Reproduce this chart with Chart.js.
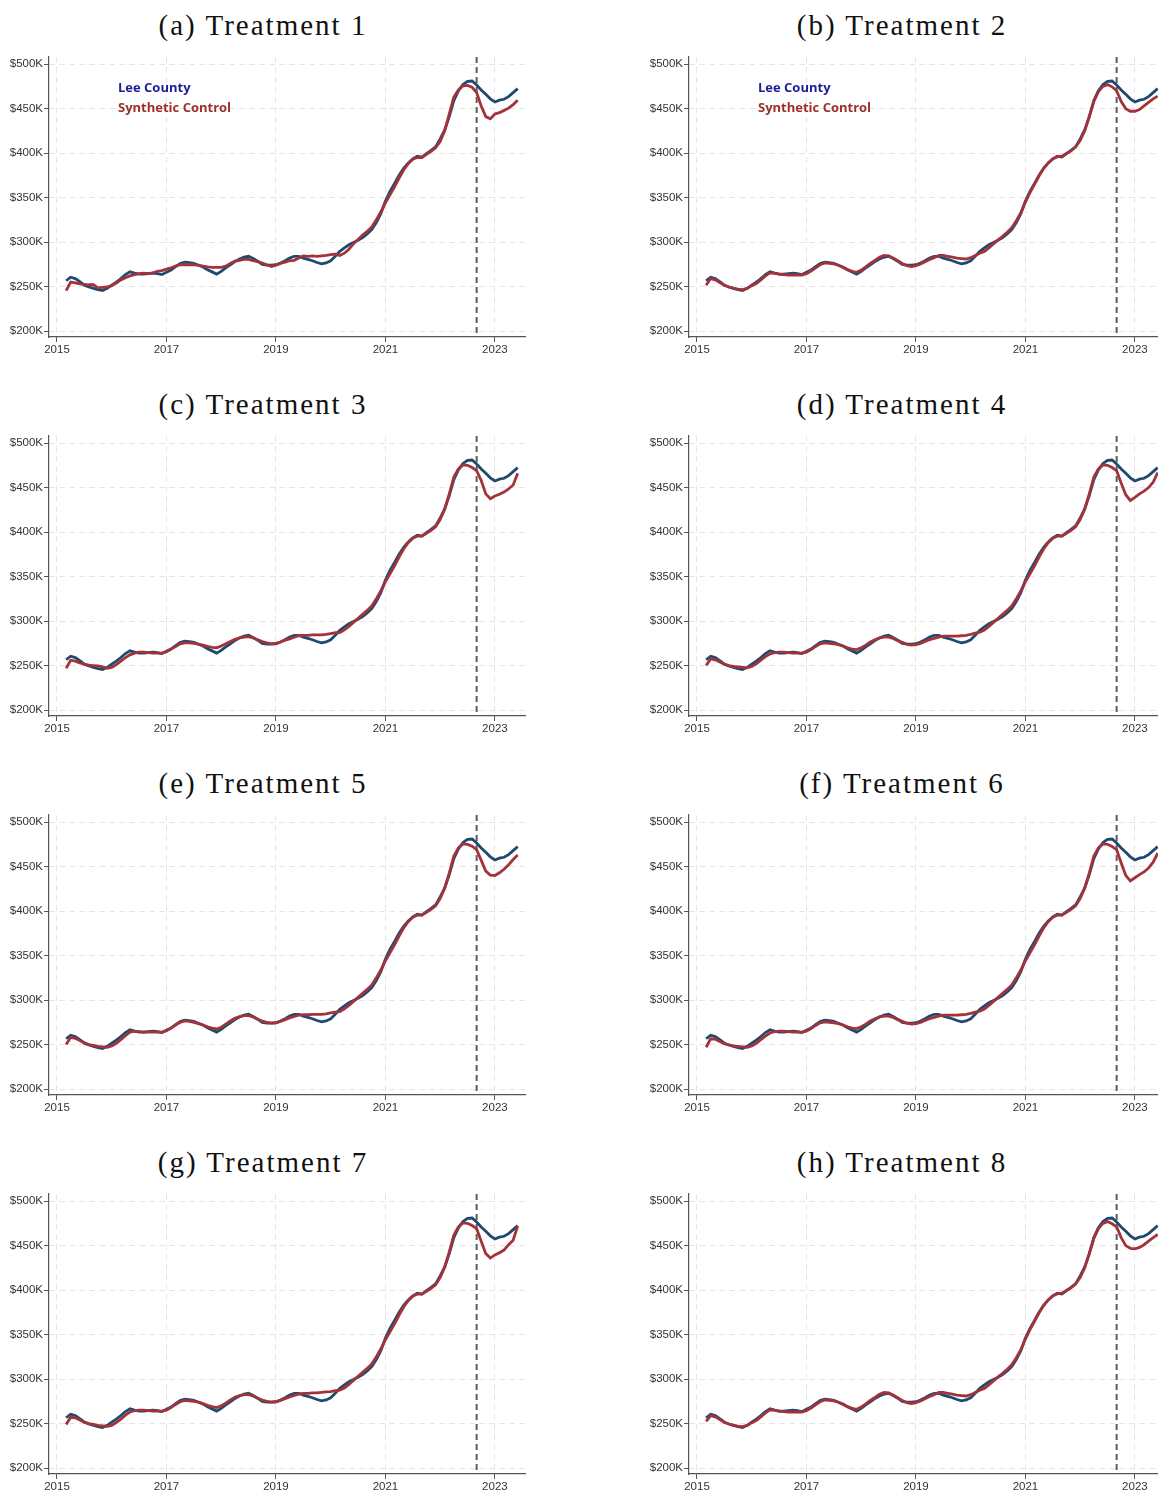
<!DOCTYPE html>
<html>
<head>
<meta charset="utf-8" />
<title>Lee County vs Synthetic Control</title>
<script src="https://cdn.jsdelivr.net/npm/chart.js@4.4.1/dist/chart.umd.min.js"></script>
<style>
  html, body { margin: 0; padding: 0; background: #fff; overflow: hidden; }
  body { width: 1158px; height: 1496px; position: relative; }
  .panel { position: absolute; width: 560px; height: 320px; }
  .title {
    position: absolute; width: 400px; text-align: center;
    font-family: "Liberation Serif", serif; font-size: 29px; letter-spacing: 2px;
    color: #111; line-height: 34px;
  }
</style>
</head>
<body>
<script>
// monthly, Mar 2015 .. Jun 2023 (values in $K)
const startYear = 2015, startMonth = 3, nMonths = 100;
const treatDate = 2022 + 8 / 12; // Sept 2022
const xTicks = [2015, 2017, 2019, 2021, 2023];
const yTicks = [200, 250, 300, 350, 400, 450, 500];

const leeCounty = [
  256.5, 260.5, 259, 255.5, 251.5, 249.5, 248, 246.5, 245.5, 248,
  251.5, 255, 259, 263.5, 266.5, 265, 264, 264, 264.5, 265, 264.5, 263.5,
  266, 268.5, 272.5, 276, 277.5, 277, 276, 274, 272, 269, 266.5, 264,
  267, 271, 274.5, 278, 281, 283, 284, 281.5, 278.5, 275, 274, 274,
  274.5, 276.5, 279, 282, 284, 284, 282, 280.5, 279, 277, 275.5, 276.5,
  279, 284, 289.5, 293.5, 297, 299.5, 302, 305, 309, 314, 322, 332,
  346, 357, 366, 375, 383, 389, 393.5, 396.5, 395.5, 399.5, 403, 407,
  416, 426, 441, 459, 470, 477, 480.5, 481, 476.5, 471, 466, 461,
  457.5, 459.5, 460.5, 463.5, 468, 472.5
];
const synthA = [
  245.5, 255, 254, 253, 252.5, 252, 252, 248.5, 249, 249.5,
  251, 254, 257.5, 260, 262, 263.5, 264.5, 265, 264.5, 265.5, 267, 268,
  269.5, 271, 273, 274.5, 274.5, 274.5, 274.5, 274, 273, 272, 271.5, 271.5,
  271.5, 273, 276, 278.5, 279.5, 280.5, 280.5, 279, 278, 276.5, 274.5, 272.5,
  274, 276, 277.5, 279, 279.5, 282, 284.5, 284, 284.5, 284, 284.5, 285,
  286, 286.5, 285, 287.5, 292, 298, 303, 308, 312, 317, 325, 334,
  344, 353, 362, 372, 381, 388, 393, 395, 395, 398.5, 402, 406,
  413, 425, 444, 463, 471, 475.5, 476, 474, 468, 453, 441, 438.5,
  444, 445.5, 448, 450.5, 454.5, 459.5
];
const synthB = [
  251.5, 259, 257.5, 254.5, 251.5, 249.5, 248, 247, 246.5, 248,
  251, 253.5, 257.5, 262, 265.5, 265, 264, 263.5, 263, 263, 263, 263,
  264.5, 267.5, 271, 274.5, 276.5, 276, 275.5, 274, 271.5, 269, 267, 266,
  268.5, 272, 276, 279.5, 283, 285, 284.5, 282, 279, 276, 273.5, 272.5,
  273.5, 275.5, 278, 280.5, 282.5, 285, 285, 284, 283, 282, 281.5, 281,
  282.5, 285, 287.5, 289.5, 293.5, 298, 302.5, 306.5, 311, 316, 324, 333,
  345, 355.5, 365, 374.5, 383, 389, 393.5, 396, 396.5, 399.5, 402.5, 407,
  414, 425, 441, 458, 469, 475, 477, 474.5, 470, 458, 450, 447,
  447, 449, 453, 457, 461, 464
];
const synthC = [
  247, 256, 255, 253, 251.5, 250.5, 250, 249.5, 248.5, 247,
  248, 251, 255, 259, 262, 264, 265, 265, 264.5, 264, 264, 264,
  265.5, 268.5, 271.5, 274.5, 275.5, 275.5, 275, 274, 273, 271.5, 270.5, 270,
  272, 274.5, 277, 279.5, 281, 282, 282.5, 281, 279, 277, 275.5, 274.5,
  275, 276.5, 278.5, 280, 282, 283.5, 284, 284, 284.5, 284.5, 284.5, 285,
  286, 287, 287, 290, 294, 298.5, 303, 307.5, 312, 317, 325, 334,
  344, 353, 362, 372, 381, 388, 393, 395.5, 395.5, 398.5, 402, 406,
  414, 426, 443, 462, 471, 475.5, 475, 472.5, 469, 458, 443, 437.5,
  440.5, 442.5, 445, 448.5, 453, 466
];
const synthD = [
  250, 257.5, 256.5, 254, 251.5, 250, 249, 248.5, 248, 247.5,
  249, 252, 256, 260, 263, 264.5, 265, 265, 264.5, 264, 264, 264,
  265, 268, 271.5, 274.5, 275.5, 275, 274.5, 273.5, 272, 270, 268.5, 268,
  270, 273, 276.5, 279, 281, 282, 282, 280.5, 278, 276, 274, 273,
  273.5, 275, 277, 279, 280.5, 282, 283, 283, 283, 283, 283.5, 284,
  285, 286.5, 287.5, 290, 294, 298.5, 303, 307.5, 312, 317, 325, 334,
  344, 353, 362, 372, 381, 388, 393, 395.5, 395.5, 398.5, 402, 406,
  414, 426, 443, 462, 471, 475.5, 475, 472.5, 469, 455, 442, 435.5,
  439, 443, 446, 450, 456, 467
];
const synthE = [
  250, 258, 257, 254.5, 252, 250, 249, 248, 247.5, 247,
  248.5, 251.5, 255.5, 260, 264, 265, 264.5, 264, 264, 264, 264, 264,
  265.5, 268.5, 272, 275, 276.5, 276, 275, 273.5, 272, 270, 268.5, 267.5,
  269.5, 273, 276.5, 279.5, 281.5, 282.5, 282.5, 281, 278.5, 276.5, 275, 274,
  274.5, 276, 278, 280, 281.5, 283, 283.5, 283.5, 284, 284, 284, 284.5,
  285.5, 286.5, 287, 290, 294, 298.5, 303, 307.5, 312, 317, 325, 334,
  344, 353, 362, 372, 381, 388, 393, 395.5, 395.5, 398.5, 402, 406,
  414, 426, 443, 462, 471, 475.5, 475, 473, 469, 457, 445, 440.5,
  440, 443, 447, 452, 458, 463
];
const synthF = [
  247, 256.5, 256, 253.5, 251, 249.5, 248.5, 248, 247.5, 247,
  248.5, 251.5, 255.5, 259.5, 263, 264.5, 265, 265, 264.5, 264, 264, 264,
  265, 268, 271.5, 274.5, 275.5, 275, 274.5, 273.5, 272, 270, 268.5, 268,
  270, 273, 276.5, 279, 281, 282, 282, 280.5, 278, 276, 274, 273,
  273.5, 275, 277, 279, 280.5, 282, 283, 283, 283, 283, 283.5, 284,
  285, 286.5, 287.5, 290, 294, 298.5, 303, 307.5, 312, 317, 325, 334,
  344, 353, 362, 372, 381, 388, 393, 395.5, 395.5, 398.5, 402, 406,
  414, 426, 443, 462, 471, 475.5, 475, 472.5, 469, 454, 440, 434,
  437.5, 441, 444, 448.5, 455, 465
];
const synthG = [
  249, 257, 256.5, 254, 251.5, 250, 249, 248, 247.5, 247,
  248, 251, 255, 259.5, 263, 264.5, 265, 265, 264.5, 264, 264, 264,
  265, 268, 271.5, 274.5, 276, 275.5, 275, 274, 272.5, 270.5, 269, 268,
  270, 273, 276.5, 279.5, 281.5, 282.5, 282.5, 281, 278.5, 276.5, 275, 274,
  274.5, 276, 278, 280, 281.5, 283, 284, 284, 284.5, 284.5, 285, 285.5,
  286, 287, 287.5, 290, 294, 298.5, 303, 307.5, 312, 317, 325, 334,
  344, 353, 362, 372, 381, 388, 393, 395.5, 395.5, 398.5, 402, 406,
  414, 426, 443, 462, 471, 475.5, 475, 472.5, 469, 455, 441, 436,
  439.5, 442, 445, 451, 456, 472
];
const synthH = [
  252.5, 259, 257.5, 254.5, 251.5, 249.5, 248, 247, 246.5, 248,
  251, 253.5, 257.5, 262, 265.5, 265, 264, 263.5, 263, 263, 263, 263,
  264.5, 267.5, 271, 274.5, 276.5, 276, 275.5, 274, 271.5, 269, 267, 266,
  268.5, 272, 276, 279.5, 283, 285, 284.5, 282, 279, 276, 273.5, 272.5,
  273.5, 275.5, 278, 280.5, 282.5, 285, 285, 284, 283, 282, 281.5, 281,
  282.5, 285, 287.5, 289.5, 293.5, 298, 302.5, 306.5, 311, 316, 324, 333,
  345, 355.5, 365, 374.5, 383, 389, 393.5, 396, 396.5, 399.5, 402.5, 407,
  414, 425, 441, 458, 469, 475, 477, 474.5, 471, 459, 450, 447,
  446.5, 448, 451, 455, 459, 462.5
];

const panels = [
  { title: "(a) Treatment 1", synth: synthA, legend: true },
  { title: "(b) Treatment 2", synth: synthB, legend: true },
  { title: "(c) Treatment 3", synth: synthC },
  { title: "(d) Treatment 4", synth: synthD },
  { title: "(e) Treatment 5", synth: synthE },
  { title: "(f) Treatment 6", synth: synthF },
  { title: "(g) Treatment 7", synth: synthG },
  { title: "(h) Treatment 8", synth: synthH }
];

const dates = [];
for (let i = 0; i < nMonths; i++) {
  dates.push(startYear + (startMonth - 1 + i) / 12);
}
const toPoints = vals => vals.map((v, i) => ({ x: dates[i], y: v }));

const leeColor = "#1f4a70";
const synthColor = "#a3333a";

// dashed treatment line + the in-plot legend text
const extras = {
  id: "extras",
  beforeDatasetsDraw(chart, args, opts) {
    const { ctx, chartArea, scales } = chart;
    const x = scales.x.getPixelForValue(treatDate);
    ctx.save();
    ctx.strokeStyle = "#5c5c5c";
    ctx.lineWidth = 2;
    ctx.setLineDash([6, 4]);
    ctx.beginPath();
    ctx.moveTo(x, chartArea.top);
    ctx.lineTo(x, chartArea.bottom);
    ctx.stroke();
    ctx.restore();
  },
  afterDatasetsDraw(chart, args, opts) {
    if (!opts.show) return;
    const { ctx, chartArea } = chart;
    ctx.save();
    ctx.font = "bold 13px 'Open Sans'";
    ctx.textBaseline = "middle";
    ctx.fillStyle = "#1d1d96";
    ctx.fillText("Lee County", chartArea.left + 69, chartArea.top + 31);
    ctx.fillStyle = "#9c3129";
    ctx.fillText("Synthetic Control", chartArea.left + 69, chartArea.top + 51);
    ctx.restore();
  }
};

const tickFont = { family: "Liberation Sans", size: 11.5 };

panels.forEach((p, i) => {
  const col = i % 2, row = Math.floor(i / 2);
  const left = col * 640, top = 46 + row * 379;

  const t = document.createElement("div");
  t.className = "title";
  t.textContent = p.title;
  t.style.left = (col ? 902 : 263) - 200 + "px";
  t.style.top = 25 + row * 379 - 17 + "px";
  document.body.appendChild(t);

  const box = document.createElement("div");
  box.className = "panel";
  box.style.left = left + "px";
  box.style.top = top + "px";
  const cv = document.createElement("canvas");
  cv.width = 560;
  cv.height = 320;
  box.appendChild(cv);
  document.body.appendChild(box);

  new Chart(cv, {
    type: "line",
    data: {
      datasets: [
        { label: "Synthetic Control", data: toPoints(p.synth), borderColor: synthColor, borderWidth: 2.8 },
        { label: "Lee County", data: toPoints(leeCounty), borderColor: leeColor, borderWidth: 2.8 }
      ]
    },
    options: {
      responsive: false,
      animation: false,
      devicePixelRatio: 1,
      layout: { padding: { top: 11, right: 35, left: 0, bottom: 0 } },
      elements: { point: { radius: 0 }, line: { tension: 0 } },
      plugins: {
        legend: { display: false },
        tooltip: { enabled: false },
        extras: { show: !!p.legend }
      },
      scales: {
        x: {
          type: "linear",
          min: 2014.854,
          max: 2023.55,
          afterBuildTicks: s => { s.ticks = xTicks.map(v => ({ value: v })); },
          afterFit: s => { s.height = 29; },
          ticks: {
            font: tickFont, color: "#333", padding: 1, maxRotation: 0,
            callback: v => String(v)
          },
          grid: { color: "#e6e6e6", lineWidth: 1, tickLength: 5, tickColor: "#555", tickWidth: 1 },
          border: { display: true, color: "#555", width: 1.2, dash: [6, 4] }
        },
        y: {
          type: "linear",
          min: 193.3,
          max: 508,
          afterBuildTicks: s => { s.ticks = yTicks.map(v => ({ value: v })); },
          afterFit: s => { s.width = 49; },
          ticks: {
            font: tickFont, color: "#333", padding: 1,
            callback: v => "$" + v + "K"
          },
          grid: { color: "#e6e6e6", lineWidth: 1, tickLength: 5, tickColor: "#555", tickWidth: 1 },
          border: { display: true, color: "#555", width: 1.2, dash: [6, 4] }
        }
      }
    },
    plugins: [extras]
  });
});
</script>
</body>
</html>
